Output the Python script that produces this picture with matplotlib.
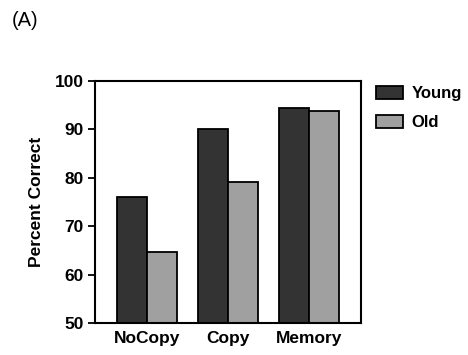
import matplotlib
matplotlib.use('Agg')
import numpy as np
import matplotlib.pyplot as plt

plt.rcParams['font.family'] = ['Liberation Sans', 'DejaVu Sans']
plt.rcParams['font.weight'] = 'bold'
plt.rcParams['axes.labelweight'] = 'bold'

# ── Data ──────────────────────────────────────────────────────────────────────
conditions = ['NoCopy', 'Copy', 'Memory']
young = [76.1, 90.1, 94.5]
old = [64.7, 79.1, 93.8]
groups = ['Young', 'Old']
yticks = [50, 60, 70, 80, 90, 100]

colors = {'Young': '#333333', 'Old': '#a0a0a0'}

fig = plt.figure(figsize=(4.68, 3.55), dpi=100)
ax = fig.add_axes([0.203, 0.090, 0.568, 0.682])

x = np.arange(len(conditions))
w = 0.37
ax.bar(x - w / 2, young, w, color=colors['Young'], edgecolor='black',
       linewidth=1.3, label='Young')
ax.bar(x + w / 2, old, w, color=colors['Old'], edgecolor='black',
       linewidth=1.3, label='Old')

ax.set_ylim(50, 100)
ax.set_xlim(-0.64, 2.64)
ax.set_yticks(yticks)
ax.set_xticks(x)
ax.set_xticklabels(conditions)
ax.tick_params(axis='y', length=5, width=1.3, labelsize=12.5, pad=3)
ax.tick_params(axis='x', length=0, labelsize=12.5, pad=6)
for s in ax.spines.values():
    s.set_linewidth(1.5)
ax.set_ylabel('Percent Correct', fontsize=12.5, labelpad=8)

fig.legend(loc='upper left', bbox_to_anchor=(0.790, 0.777), frameon=False,
           fontsize=12, handlelength=1.6, handleheight=0.85,
           handletextpad=0.5, labelspacing=0.8, borderaxespad=0)

fig.text(0.025, 0.942, '(A)', fontsize=14.5, fontweight='normal',
         va='center', ha='left')

plt.savefig('out.png', dpi=100)
